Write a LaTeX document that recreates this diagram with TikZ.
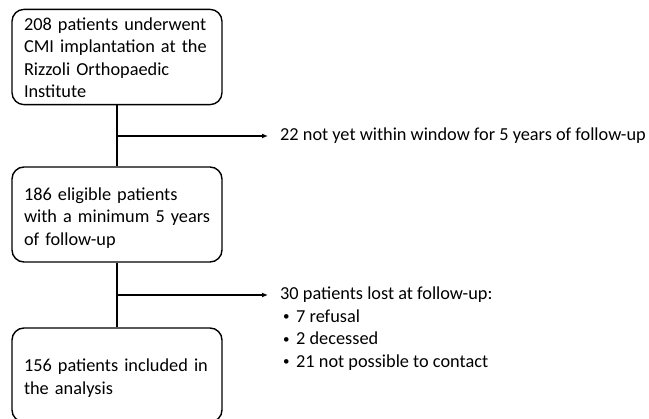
\documentclass[tikz,border=0pt]{standalone}
\usepackage{fontspec}
\setmainfont{Carlito}
\usetikzlibrary{arrows.meta}
\newcommand{\flowfont}{\fontsize{18.3}{22.5}\selectfont}
\newcommand{\bulletitem}{\makebox[16pt][l]{\hspace{3pt}\raisebox{1.5pt}{\fontsize{13}{13}\selectfont•}}}
\tikzset{
  flowbox/.style={draw=black, line width=1.4pt, rounded corners=12pt,
    minimum width=210pt, text width=186pt, inner xsep=12pt, inner ysep=0pt,
    align=left, font=\flowfont},
  conn/.style={line width=1.4pt},
  arr/.style={line width=1.4pt, -{Latex[length=6pt,width=5pt]}},
  side/.style={inner sep=0pt, anchor=base west, font=\flowfont}
}
\begin{document}
\begin{tikzpicture}[x=1pt,y=-1pt]
\useasboundingbox (0,0) rectangle (649,419);
\node[flowbox, minimum height=94pt] (b1) at (117,57)
  {\begin{tabular}{@{}l@{}}\rule{0pt}{21pt}208 patients underwent\\CMI implantation at the\\Rizzoli Orthopaedic\\Institute\end{tabular}};
\node[flowbox, minimum height=95pt] (b2) at (117,214.5)
  {\begin{tabular}{@{}l@{}}\rule{0pt}{23pt}186 eligible patients\\with a minimum 5 years\\of follow-up\end{tabular}};
\node[flowbox, minimum height=94pt] (b3) at (117,375)
  {\begin{tabular}{@{}l@{}}\rule{0pt}{23pt}156 patients included in\\the analysis\end{tabular}};
\coordinate (j1) at (b1.south |- 0,136);
\coordinate (j2) at (b2.south |- 0,295);
\node[side] (t1) at (280,141) {22 not yet within window for 5 years of follow-up};
\node[side] (t2) at (280,300) {\begin{tabular}[t]{@{}l@{}}
30 patients lost at follow-up:\\
\bulletitem 7 refusal\\
\bulletitem 2 decessed\\
\bulletitem 21 not possible to contact
\end{tabular}};
\draw[conn] (b1.south) -- (b2.north);
\draw[conn] (b2.south) -- (b3.north);
\draw[arr] (j1) -- ([xshift=-12pt]t1.west |- j1);
\draw[arr] (j2) -- ([xshift=-12pt]t2.west |- j2);
\end{tikzpicture}
\end{document}
